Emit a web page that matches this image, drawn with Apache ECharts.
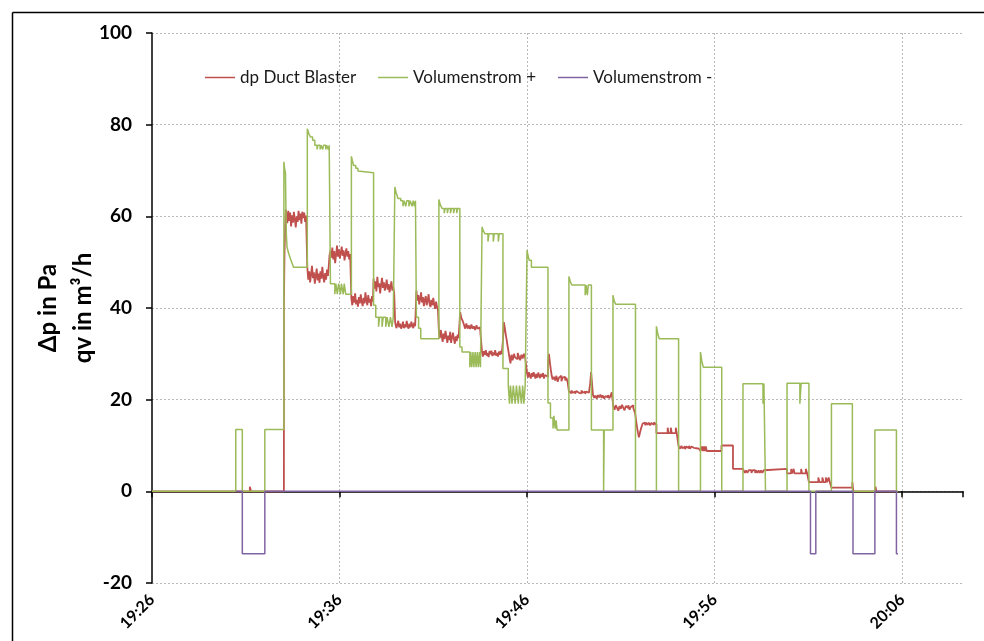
<!DOCTYPE html>
<html>
<head>
<meta charset="utf-8">
<script src="https://cdn.jsdelivr.net/npm/echarts@6.0.0/dist/echarts.min.js"></script>
<style>
html,body{margin:0;padding:0;background:#fff;overflow:hidden;}
#chart{width:984px;height:641px;}
</style>
</head>
<body>
<div id="chart"></div>
<script>
// x values: seconds after 19:26:00
const xTickLabels = ['19:26', '19:36', '19:46', '19:56', '20:06'];
const seriesNames = ['dp Duct Blaster', 'Volumenstrom +', 'Volumenstrom -'];
const seriesColors = ['#C0504D', '#9BBB59', '#8064A2'];
const yAxisName = '\u0394p in Pa\nqv in m\u00B3/h';

const dpDuctBlaster = [
[0,0],[313,1.0],[317,0],
[422,40.2],[424,52.0],[426,58.0],[428,61.5],
[430,60.5],[433,58.5],[436,61.2],[439,59.0],[442,60.8],[445,57.8],[448,60.2],[451,58.6],[454,61.0],[457,59.4],[460,57.6],[463,60.0],[466,58.8],[469,61.2],[472,59.2],[475,60.6],[478,58.4],[481,61.0],[484,59.6],[487,60.8],[490,58.8],[493,60.2],
[497,48.8],[500,46.2],[503,48.0],[506,45.6],[509,47.4],[512,49.2],[515,46.5],[518,47.8],[521,45.3],[524,47.0],[527,48.6],[530,46.0],[533,47.5],[536,45.5],[539,48.0],[542,46.4],[545,49.0],[548,46.8],[551,45.6],[554,47.6],[557,46.2],[560,48.4],[563,47.0],[566,49.5],[568,51.5],
[571,52.5],[574,51.0],[577,53.2],[580,50.6],[583,52.4],[586,49.8],[589,51.6],[592,53.6],[595,51.2],[598,52.8],[601,50.8],[604,52.0],[607,53.4],[610,51.4],[613,52.6],[616,50.4],[619,51.8],[622,53.0],[625,51.2],[628,52.4],[631,50.6],[634,51.8],
[638,42.0],[641,40.6],[644,42.6],[647,41.2],[650,43.2],[653,40.8],[656,41.8],[659,40.3],[662,42.4],[665,41.0],[668,43.0],[671,41.4],[674,40.4],[677,42.2],[680,41.0],[683,43.4],[686,41.6],[689,40.6],[692,42.8],[695,41.2],[698,42.0],[701,40.4],[704,42.6],[707,41.4],
[709,46.4],[712,44.2],[715,45.8],[718,43.6],[721,46.8],[724,44.6],[727,45.4],[730,43.2],[733,45.0],[736,46.6],[739,44.4],[742,45.6],[745,43.8],[748,44.8],[751,46.2],[754,44.0],[757,45.2],[760,43.4],[763,44.6],[766,45.8],[769,43.8],[772,44.6],[775,43.2],
[778,36.8],[782,35.6],[785,36.4],[788,37.2],[791,35.8],[794,36.6],[797,35.5],[800,36.0],[803,37.0],[806,35.6],[809,36.4],[812,35.8],[815,37.2],[818,36.0],[821,35.5],[824,36.6],[827,35.8],[830,37.0],[833,36.2],[836,35.6],[839,36.8],[842,36.0],
[846,43.8],[849,41.6],[852,42.8],[855,40.8],[858,42.0],[861,43.4],[864,41.2],[867,42.4],[870,40.4],[873,41.8],[876,42.6],[879,40.6],[882,41.6],[885,43.0],[888,41.0],[891,40.2],[894,41.8],[897,40.6],[900,42.2],[903,40.8],[906,39.8],[909,41.4],[912,40.2],[915,39.6],
[918,34.8],[921,33.4],[924,35.2],[927,34.0],[930,32.6],[933,34.4],[936,33.2],[939,35.0],[942,33.8],[945,32.4],[948,34.0],[951,33.0],[954,34.8],[957,32.4],[960,33.6],[963,34.6],[966,33.2],[969,32.2],[972,33.8],[975,32.8],[978,34.2],[981,33.4],
[986,39.1],[990,37.8],[994,37.2],[998,36.4],[1002,35.5],[1006,36.6],[1010,35.5],[1014,36.2],[1018,35.4],[1022,36.4],[1026,35.5],[1030,36.0],[1034,35.2],[1038,36.2],[1042,35.5],[1046,35.8],[1050,35.3],
[1056,30.4],[1059,29.4],[1062,30.6],[1065,29.8],[1068,30.8],[1071,29.6],[1074,30.2],[1077,29.3],[1080,30.6],[1083,29.9],[1086,30.7],[1089,29.5],[1092,30.3],[1095,29.7],[1098,30.8],[1101,29.6],[1104,30.2],[1107,29.4],[1110,30.5],[1113,29.8],[1116,30.6],[1119,29.9],
[1123,33.0],[1126,36.9],[1129,35.6],[1132,34.2],[1135,33.0],[1138,31.6],[1141,30.4],[1144,29.0],[1147,27.9],[1150,29.8],[1154,28.6],[1158,30.0],[1162,29.2],[1166,28.8],[1170,30.2],[1174,29.4],[1178,28.6],[1182,29.8],[1186,29.0],[1190,30.0],[1194,29.2],[1197,29.6],
[1200,25.8],[1203,24.8],[1206,26.0],[1209,25.2],[1212,24.6],[1215,25.8],[1218,25.0],[1221,26.0],[1224,25.4],[1227,24.6],[1230,25.6],[1233,24.8],[1236,25.9],[1239,25.2],[1242,24.7],[1245,25.6],[1248,25.0],[1251,25.8],[1254,24.6],[1257,25.4],[1260,25.8],[1263,25.0],
[1267,28.0],[1270,30.0],[1273,28.2],[1276,26.6],[1279,25.2],[1282,24.4],[1286,25.0],[1290,24.2],[1294,25.2],[1298,23.9],[1302,24.8],[1306,25.2],[1310,24.0],[1314,24.8],[1318,25.0],[1322,24.2],[1326,24.8],[1330,23.8],
[1334,21.8],[1338,21.4],[1342,22.0],[1346,21.5],[1350,21.8],[1354,21.3],[1358,21.9],[1362,21.5],[1366,21.8],[1370,21.4],[1374,22.0],[1378,21.5],[1382,21.8],[1386,21.3],[1390,21.8],[1394,21.5],[1398,21.9],[1402,23.5],[1405,26.0],[1408,23.5],
[1411,21.0],[1415,20.4],[1419,20.9],[1423,20.2],[1427,21.0],[1431,20.5],[1435,21.1],[1439,20.4],[1443,20.9],[1447,20.2],[1451,20.8],[1455,20.5],[1459,21.0],[1463,20.3],[1467,20.8],[1471,21.6],
[1476,18.6],[1480,17.8],[1484,18.8],[1488,18.2],[1492,17.6],[1496,18.6],[1500,18.0],[1504,18.9],[1508,18.2],[1512,17.7],[1516,18.6],[1520,18.2],[1524,18.8],[1528,17.8],[1532,18.4],[1536,18.8],[1540,18.2],[1543,18.6],
[1546,17.0],[1549,15.4],[1552,14.0],[1555,12.8],[1558,11.8],[1562,13.0],[1566,14.0],[1570,14.8],[1574,15.0],[1578,14.4],[1582,15.0],[1586,14.5],[1590,15.0],[1594,14.4],[1598,14.9],[1602,14.5],[1606,15.0],[1610,14.6],
[1614,12.7],[1650,13.9],[1653,12.7],[1660,13.9],[1663,12.7],[1676,13.9],[1679,12.7],
[1685,9.8],[1690,9.3],[1694,9.9],[1698,9.4],[1702,9.8],[1706,9.2],[1710,9.8],[1714,9.4],[1718,9.9],[1722,9.3],[1726,9.8],[1730,9.5],[1734,9.9],[1738,9.4],[1742,9.8],[1746,9.3],[1750,9.6],
[1755,8.8],[1760,9.8],[1763,8.8],[1766,9.8],[1769,8.8],[1772,9.8],[1775,8.8],
[1822,10.0],[1859,4.9],
[1891,4.6],[1897,4.0],[1901,4.6],[1905,4.0],[1909,4.6],[1918,4.0],[1922,4.6],[1930,4.0],[1933,4.6],[1937,4.0],[1941,4.6],[1945,4.0],[1949,4.6],[1953,4.0],[1957,4.6],[1960,4.2],
[1963,4.9],
[2032,3.9],[2045,4.9],[2048,3.9],[2053,4.9],[2056,3.9],[2077,4.9],[2080,3.9],[2092,4.9],[2096,4.0],
[2102,2.0],[2132,3.0],[2136,2.0],[2145,3.0],[2149,2.0],[2156,3.0],[2160,2.0],[2165,3.0],[2169,2.0],
[2174,0.8],[2241,2.0],[2244,0],[2315,1.0],[2318,0],[2386,0]
];

const volumenstromPlus = [
[0,0],[268,13.5],[289,0],[361,13.5],
[422,71.9],[424,70.5],[427,69.5],[428,64.0],[429,59.0],[430,56.0],[432,53.3],[436,52.2],[441,51.1],[447,50.0],[453,48.9],
[497,79.1],[502,78.0],[507,77.3],[514,76.6],[521,75.5],[528,74.6],[531,75.5],[538,74.6],[541,75.5],[546,74.6],[549,75.5],[556,74.6],[559,75.5],[564,74.6],[567,75.5],
[571,45.3],[585,43.0],[588,45.3],[593,43.0],[597,45.3],[603,43.0],[606,45.3],[612,43.0],[615,45.3],[620,43.0],
[638,73.1],[641,72.2],[645,71.1],[652,70.5],[659,69.9],[664,69.5],
[709,40.6],[716,38.0],[725,35.9],[728,38.0],[736,35.9],[740,38.0],[748,35.9],[752,38.0],[758,35.9],[763,38.0],[768,35.9],[772,38.0],
[777,66.4],[781,65.2],[787,63.9],[796,63.4],[803,62.2],[806,63.4],[812,62.2],[815,63.4],[822,62.2],[826,63.4],[832,62.2],[836,63.4],[840,62.2],[843,63.4],
[846,38.0],[853,35.6],[860,33.3],
[918,63.7],[922,62.6],[928,61.7],[935,60.7],[938,61.7],[945,60.7],[948,61.7],[955,60.7],[958,61.7],[965,60.7],[968,61.7],[975,60.7],[978,61.7],
[985,31.5],[992,30.4],[1017,27.1],[1020,30.4],[1023,27.1],[1027,30.4],[1030,27.1],[1034,30.4],[1037,27.1],[1041,30.4],[1044,27.1],[1048,30.4],[1051,27.1],
[1056,57.7],[1060,56.9],[1065,56.2],[1075,54.5],[1078,56.2],[1092,54.5],[1095,56.2],[1108,54.5],[1111,56.2],
[1123,26.8],[1140,23.1],[1144,19.1],[1147,23.1],[1152,19.1],[1156,23.1],[1162,19.1],[1166,23.1],[1172,19.1],[1176,23.1],[1182,19.1],[1186,23.1],[1190,19.1],[1194,23.1],
[1200,52.6],[1203,51.5],[1207,50.4],[1214,48.9],
[1267,19.3],[1275,16.0],[1283,13.7],[1286,16.5],[1290,13.7],[1293,15.5],[1296,13.4],
[1334,46.9],[1338,45.9],[1343,45.0],[1386,42.8],[1389,45.0],[1393,42.8],[1396,45.0],
[1406,13.4],[1445,0],[1447,13.4],
[1475,42.8],[1479,41.5],[1484,40.8],
[1547,0],
[1614,36.0],[1618,34.5],[1623,33.3],
[1685,0],
[1755,30.4],[1759,28.5],[1764,27.1],
[1823,0],
[1891,23.5],[1955,19.1],[1958,23.5],[1963,0],
[2032,23.6],[2073,19.1],[2077,23.6],[2102,0],
[2174,19.1],[2241,0],
[2313,13.4],[2382,0],[2386,0]
];

const volumenstromMinus = [
[268,0],[289,-13.6],[361,0],[2107,-13.6],[2124,0],[2243,-13.6],[2313,0],[2382,-13.6],[2387,-13.6]
];

const seriesData = [dpDuctBlaster, volumenstromPlus, volumenstromMinus];

const chart = echarts.init(document.getElementById('chart'), null, {renderer: 'canvas', width: 984, height: 641});
const FONT = 'Lato';

const option = {
  animation: false,
  backgroundColor: '#ffffff',
  textStyle: {fontFamily: FONT},
  graphic: [{
    type: 'line',
    shape: {x1: 12.5, y1: 12.5, x2: 984, y2: 12.5},
    style: {stroke: '#000', lineWidth: 1.5},
    silent: true,
    z: 100
  }, {
    type: 'line',
    shape: {x1: 12.5, y1: 12.5, x2: 12.5, y2: 641},
    style: {stroke: '#000', lineWidth: 1.5},
    silent: true,
    z: 100
  }],
  legend: {
    left: 205,
    top: 69,
    padding: 0,
    itemWidth: 30,
    itemHeight: 1.5,
    itemGap: 22,
    icon: 'rect',
    selectedMode: false,
    textStyle: {fontFamily: FONT, fontSize: 17, color: '#1a1a1a'},
    data: seriesNames
  },
  grid: {left: 152, right: 21, top: 33, bottom: 58, containLabel: false, outerBoundsMode: 'none'},
  xAxis: [{
    type: 'value',
    min: 0,
    max: 2595,
    interval: 600,
    position: 'bottom',
    axisLine: {show: false, onZero: false},
    axisTick: {show: false},
    axisLabel: {
      rotate: 45,
      margin: 14,
      fontFamily: FONT,
      fontSize: 16,
      fontWeight: 'bold',
      color: '#000',
      showMaxLabel: false,
      formatter: function (v) {
        const i = Math.round(v / 600);
        return (Math.abs(v - i * 600) < 1e-6 && xTickLabels[i]) ? xTickLabels[i] : '';
      }
    },
    splitLine: {show: true, showMinLine: false, showMaxLine: false, lineStyle: {color: '#b8b8b8', type: [2, 2], width: 1}}
  }, {
    type: 'value',
    min: 0,
    max: 2595,
    interval: 600,
    position: 'top',
    axisLine: {show: true, onZero: true, lineStyle: {color: '#000', width: 1.5}},
    axisTick: {show: true, inside: true, length: 6, lineStyle: {color: '#000', width: 1.5}},
    axisLabel: {show: false},
    splitLine: {show: false}
  }],
  yAxis: {
    type: 'value',
    min: -20,
    max: 100,
    interval: 20,
    name: yAxisName,
    nameLocation: 'middle',
    nameGap: 51,
    nameMoveOverlap: false,
    nameTextStyle: {fontFamily: FONT, fontSize: 24, fontWeight: 'bold', color: '#000', lineHeight: 35},
    axisLine: {show: true, lineStyle: {color: '#000', width: 1.5}},
    axisTick: {show: true, length: 6, lineStyle: {color: '#000', width: 1.5}},
    axisLabel: {fontFamily: FONT, fontSize: 19, fontWeight: 'bold', color: '#000', margin: 20},
    splitLine: {show: true, lineStyle: {color: '#b8b8b8', type: [2, 2], width: 1}}
  },
  series: seriesNames.map(function (name, k) {
    return {
      name: name,
      type: 'line',
      xAxisIndex: 0,
      step: 'end',
      symbol: 'none',
      showSymbol: false,
      data: seriesData[k],
      color: seriesColors[k],
      lineStyle: {color: seriesColors[k], width: k === 0 ? 1.8 : 1.5},
      z: 2 + k
    };
  })
};
chart.setOption(option);
</script>
</body>
</html>
